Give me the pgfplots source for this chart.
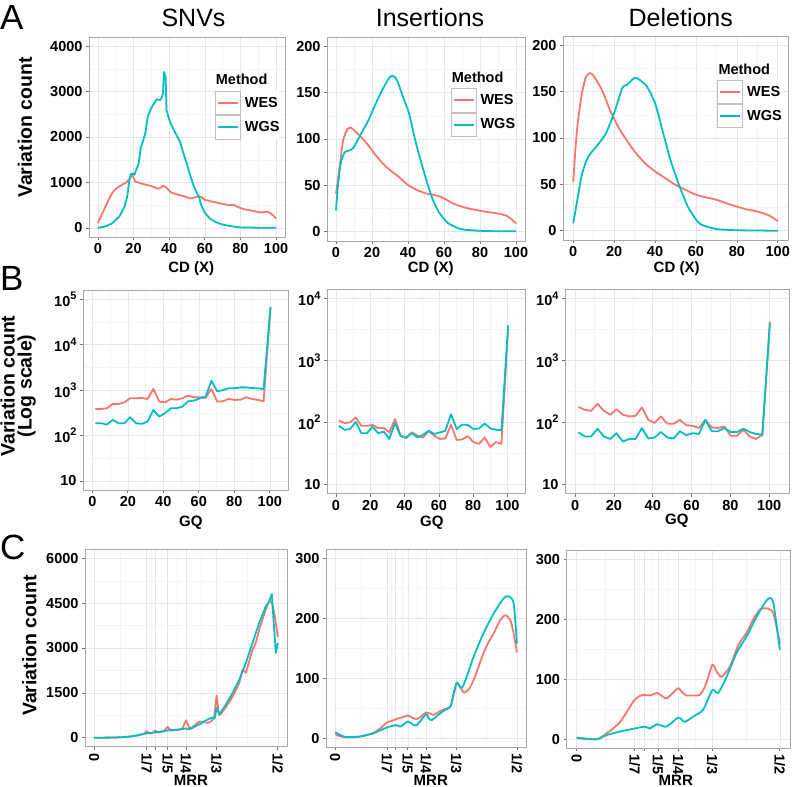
\documentclass[border=0pt]{standalone}
\usepackage{fontspec}
\setmainfont{Liberation Sans}
\usepackage{pgfplots}
\usepackage{pgfplotstable}
\pgfplotsset{compat=1.18}
\definecolor{wes}{HTML}{F8766D}
\definecolor{wgs}{HTML}{00BFC4}
\definecolor{gridmaj}{HTML}{E6E6E6}
\definecolor{gridmin}{HTML}{F5F5F5}
\definecolor{bord}{HTML}{A8A8A8}

\pgfplotstableread{
x wes wgs
1.7 384 186
5.0 384 186
8.2 396 174
11.5 495 220
14.8 495 186
18.1 535 186
21.3 657 252
24.6 657 186
27.9 670 180
31.1 635 202
34.4 1054 365
37.7 555 260
40.9 535 308
44.2 635 396
47.5 613 396
50.8 657 431
54.0 750 565
57.3 690 584
60.6 690 657
63.8 670 714
67.1 1054 1600
70.4 555 935
73.6 565 1000
76.9 635 1088
80.2 605 1088
83.5 613 1143
86.7 690 1143
90.0 635 1105
93.3 605 1088
96.5 565 1054
100.4 64800 67000
}\snvgq
\pgfplotstableread{
x wes wgs
1.7 106 88
5.0 98 76
8.2 100 78
11.5 120 102
14.8 88 67
18.1 88 67
21.3 91 85
24.6 81 67
27.9 81 71
31.1 69 54
34.4 113 98
37.7 61 60
40.9 57 56
44.2 69 67
47.5 61 57
50.8 57 63
54.0 73 73
57.3 61 65
60.6 54 69
63.8 55 73
67.1 92 136
70.4 52 78
73.6 53 92
76.9 60 91
80.2 48 78
83.5 45 80
86.7 57 96
90.0 40 80
93.3 48 76
96.5 45 75
100.4 3300 3700
}\insgq
\pgfplotstableread{
x wes wgs
1.7 177 69
5.0 160 59
8.2 154 59
11.5 200 79
14.8 154 59
18.1 133 54
21.3 163 67
24.6 133 49
27.9 125 54
31.1 128 54
34.4 175 81
37.7 110 55
40.9 98 57
44.2 125 70
47.5 95 57
50.8 95 55
54.0 110 72
57.3 90 62
60.6 88 67
63.8 81 65
67.1 110 110
70.4 83 72
73.6 81 72
76.9 86 81
80.2 61 70
83.5 61 70
86.7 76 79
90.0 59 70
93.3 54 65
96.5 63 63
100.4 4270 4000
}\delgq

\pgfplotsset{
  gg/.style={
    scale only axis,
    anchor=north west,
    axis line style={draw=bord, line width=0.8pt},
    tick align=outside,
    tick pos=left,
    major tick length=3pt,
    minor tick length=0pt,
    tick style={black!55, line width=0.7pt},
    grid=both,
    major grid style={gridmaj, line width=0.6pt},
    minor grid style={gridmin, line width=0.4pt},
    tick label style={font=\fontsize{14.5}{16}\selectfont\bfseries, text=black},
    xlabel style={font=\fontsize{15}{17}\selectfont\bfseries, anchor=base, inner sep=0pt},
    ylabel style={font=\fontsize{19.5}{20}\selectfont\bfseries, anchor=center},
    every axis plot/.append style={line width=1.8pt, no markers, line join=round},
  },
  ggleg/.style={
    legend style={at={(#1)}, anchor=north west, draw=none, fill=white,
      inner sep=0pt, outer sep=0pt, row sep=0pt, column sep=4pt,
      nodes={inner sep=0pt, font=\fontsize{14.5}{16}\selectfont\bfseries}},
    legend cell align=left,
    legend image code/.code={
      \draw[##1] (2.5pt,0pt) -- (22.5pt,0pt);
      \draw[draw=black!25, fill=none, line width=0.8pt, solid] (0pt,-11.75pt) rectangle (25pt,11.75pt);
    },
  },
  cdx/.style={xmin=-5, xmax=105, xtick={0,20,40,60,80,100}, xticklabels={0,20,40,60,80,100},
    minor xtick={10,30,50,70,90}, xlabel={CD (X)}},
  gqx/.style={xmin=-5.25, xmax=110.25, xtick={0,20,40,60,80,100}, xticklabels={0,20,40,60,80,100},
    minor xtick={10,30,50,70,90}, xlabel={GQ}},
  mrrx/.style={xmin=-0.025, xmax=0.525,
    xtick={0,0.142857,0.166667,0.2,0.25,0.333333,0.5},
    xticklabels={0,1/7,,1/5,1/4,1/3,1/2},
    minor xtick={0.071429,0.154762,0.183333,0.225,0.291667,0.416667},
    xticklabel style={rotate=-90, anchor=west},
    xlabel={MRR}},
}

\newcommand{\sups}[1]{10\raisebox{6.5pt}{\fontsize{11}{11}\selectfont #1}}

\begin{document}
\begin{tikzpicture}[x=1pt,y=1pt]
\useasboundingbox (0,0) rectangle (793,-787);

% panel letters
\node[anchor=base west, inner sep=0pt, font=\fontsize{35}{35}\selectfont] at (0,-30) {A};
\node[anchor=base west, inner sep=0pt, font=\fontsize{35}{35}\selectfont] at (0,-290) {B};
\node[anchor=base west, inner sep=0pt, font=\fontsize{35}{35}\selectfont] at (0,-559) {C};

% column titles
\node[anchor=base, inner sep=0pt, font=\fontsize{25}{25}\selectfont] at (193.5,-26) {SNVs};
\node[anchor=base, inner sep=0pt, font=\fontsize{25}{25}\selectfont] at (430,-26) {Insertions};
\node[anchor=base, inner sep=0pt, font=\fontsize{25}{25}\selectfont] at (680.8,-26) {Deletions};

% ---------------- Row A ----------------
\begin{axis}[gg, cdx, ggleg={0.643,0.7315},
  at={(89pt,-37pt)}, width=196pt, height=200pt,
  ymin=-200, ymax=4200, ytick={0,1000,2000,3000,4000}, yticklabels={0,1000,2000,3000,4000},
  minor ytick={500,1500,2500,3500},
  ylabel={Variation count},
  xlabel style={at={(axis description cs:0.522,-0.1785)}},
  ylabel style={at={(axis description cs:-0.3265,0.5475)}}]
\addlegendimage{wes, line width=2pt}
\addlegendentry{WES}
\addlegendimage{wgs, line width=2pt}
\addlegendentry{WGS}
\addplot[wes, forget plot] coordinates {(0,110) (2,280) (4,450) (6,620) (8,766) (10,860) (12,912) (14,960) (16,1000) (18,1095) (19.3,1170) (21,1020) (24,980) (27,950) (30,920) (34,860) (36.7,927) (38,900) (41,780) (45,730) (48,700) (52,645) (55,680) (57,700) (60,620) (65,570) (70,530) (74,496) (76,510) (78,470) (81.6,416) (85,390) (90,350) (92,340) (95,360) (97,320) (100,210)};
\addplot[wgs, forget plot] coordinates {(0,0) (4,30) (8,100) (12,250) (15,470) (16.5,700) (17.5,1000) (18.3,1180) (19.5,1200) (20.5,1170) (22.9,1420) (24,1750) (26.6,2080) (28,2450) (30.3,2664) (33,2832) (34.9,2810) (35.8,2870) (36.5,2950) (37.1,3430) (38,3320) (38.5,2590) (40.4,2336) (43.1,2117) (46,1900) (48,1640) (50,1400) (52,1130) (54,900) (55.5,770) (57,650) (58,500) (60,330) (63,200) (66,130) (70,73) (75,36) (80,10) (90,5) (100,5)};
\end{axis}

\begin{axis}[gg, cdx, ggleg={0.625,0.749},
  at={(327pt,-37pt)}, width=198pt, height=204pt,
  ymin=-10, ymax=210, ytick={0,50,100,150,200}, yticklabels={0,50,100,150,200},
  minor ytick={25,75,125,175},
  xlabel style={at={(axis description cs:0.524,-0.155)}}]
\addlegendimage{wes, line width=2pt}
\addlegendentry{WES}
\addlegendimage{wgs, line width=2pt}
\addlegendentry{WGS}
\addplot[wes, smooth, tension=0.4, forget plot] coordinates {(0,41) (1,55) (2,70) (3,85) (4,99) (6,109.5) (8,112.4) (10,109.5) (14,102) (18,93) (22,82.6) (26,73.6) (30,66.4) (35,59) (40,50.3) (45,45) (50,41.3) (55,39.5) (60,36) (65,30.5) (70,27) (75,24.5) (80,22.6) (85,21) (90,19.7) (95,17) (98,12.6) (100,9)};
\addplot[wgs, smooth, tension=0.4, forget plot] coordinates {(0,23) (1,48) (2,65) (3,77) (5,86) (8,88) (10,91.6) (14,106) (18,120) (22,138) (26,154) (30,167) (32,167.7) (34,163) (37.3,145) (40.6,127.5) (44.6,94) (50.2,55.6) (53.9,34) (57.6,19.7) (62,9.7) (66,5.4) (70,2.5) (80,1) (90,0.5) (100,0.5)};
\end{axis}

\begin{axis}[gg, cdx, ggleg={0.686,0.786},
  at={(563pt,-36pt)}, width=225pt, height=204pt,
  ymin=-10, ymax=210, ytick={0,50,100,150,200}, yticklabels={0,50,100,150,200},
  minor ytick={25,75,125,175},
  xlabel style={at={(axis description cs:0.505,-0.160)}}]
\addlegendimage{wes, line width=2pt}
\addlegendentry{WES}
\addlegendimage{wgs, line width=2pt}
\addlegendentry{WGS}
\addplot[wes, smooth, tension=0.4, forget plot] coordinates {(0,53) (1,85) (2,112) (4,145) (6,164.5) (8,170) (10,167) (14,152) (18,130) (22,112) (26,98) (30,85.5) (35,73) (40,64) (45,56.7) (50,49.5) (55,44) (60,38.8) (65,36) (70,33.4) (75,29.5) (80,26) (85,23) (90,20.8) (95,17.2) (98,13.6) (100,10)};
\addplot[wgs, smooth, tension=0.4, forget plot] coordinates {(0,8) (2,33) (4,58.5) (6,73) (8,82) (12,92.6) (16,105) (20,127) (24,154) (26,157) (28,161) (30,165) (32,163.4) (36,155.6) (40,137.5) (44,105) (48,73) (52,47.8) (56,26) (60,12) (62,7.5) (64,5.4) (70,1.8) (80,0.5) (100,0)};
\end{axis}

\node[anchor=base west, inner sep=0pt, font=\fontsize{14.5}{16}\selectfont\bfseries] at (215.7,-84.3) {Method};
\node[anchor=base west, inner sep=0pt, font=\fontsize{14.5}{16}\selectfont\bfseries] at (451.7,-82.7) {Method};
\node[anchor=base west, inner sep=0pt, font=\fontsize{14.5}{16}\selectfont\bfseries] at (718.3,-74) {Method};

% ---------------- Row B ----------------
\begin{axis}[gg, gqx, ymode=log,
  at={(83pt,-290pt)}, width=205pt, height=200pt,
  ymin=6.31, ymax=158489,
  ytick={10,100,1000,10000,100000}, yticklabels={10,\sups{2},\sups{3},\sups{4},\sups{5}},
  minor ytick={31.62,316.2,3162,31623},
  ylabel={Variation count\\[-3pt](Log scale)},
  ylabel style={align=center, at={(axis description cs:-0.317,0.52)}},
  xlabel style={at={(axis description cs:0.526,-0.1825)}}]
\addplot[wes] table[x=x, y=wes] {\snvgq};
\addplot[wgs] table[x=x, y=wgs] {\snvgq};
\end{axis}

\begin{axis}[gg, gqx, ymode=log,
  at={(327pt,-289.5pt)}, width=198pt, height=204pt,
  ymin=7.08, ymax=14125,
  ytick={10,100,1000,10000}, yticklabels={10,\sups{2},\sups{3},\sups{4}},
  minor ytick={31.62,316.2,3162},
  xlabel style={at={(axis description cs:0.529,-0.162)}}]
\addplot[wes] table[x=x, y=wes] {\insgq};
\addplot[wgs] table[x=x, y=wgs] {\insgq};
\end{axis}

\begin{axis}[gg, gqx, ymode=log,
  at={(565pt,-289.5pt)}, width=224pt, height=204pt,
  ymin=7.08, ymax=14125,
  ytick={10,100,1000,10000}, yticklabels={10,\sups{2},\sups{3},\sups{4}},
  minor ytick={31.62,316.2,3162},
  xlabel style={at={(axis description cs:0.499,-0.154)}}]
\addplot[wes] table[x=x, y=wes] {\delgq};
\addplot[wgs] table[x=x, y=wgs] {\delgq};
\end{axis}

% ---------------- Row C ----------------
\begin{axis}[gg, mrrx,
  at={(85pt,-549.3pt)}, width=202pt, height=197.4pt,
  ymin=-300, ymax=6300, ytick={0,1500,3000,4500,6000}, yticklabels={0,1500,3000,4500,6000},
  minor ytick={750,2250,3750,5250},
  ylabel={Variation count},
  ylabel style={at={(axis description cs:-0.2748,0.5127)}},
  xlabel style={at={(axis description cs:0.524,-0.196)}}]
\addplot[wes] coordinates {(0,0) (0.05,5) (0.08,20) (0.1,40) (0.12,80) (0.135,130) (0.1429,220) (0.151,140) (0.16,170) (0.1667,240) (0.175,170) (0.19,220) (0.2,360) (0.21,240) (0.23,260) (0.24,300) (0.25,580) (0.26,310) (0.275,420) (0.286,540) (0.3,520) (0.31,500) (0.32,560) (0.327,700) (0.3333,1410) (0.34,760) (0.345,800) (0.36,1050) (0.38,1440) (0.395,1830) (0.404,2280) (0.413,2170) (0.431,2940) (0.44,3170) (0.449,3610) (0.467,4280) (0.478,4600) (0.484,4500) (0.49,4200) (0.495,3800) (0.5,3370)};
\addplot[wgs] coordinates {(0,0) (0.05,5) (0.08,20) (0.106,55) (0.125,100) (0.142,144) (0.16,170) (0.178,200) (0.2,244) (0.215,260) (0.232,278) (0.25,311) (0.259,280) (0.272,360) (0.286,444) (0.304,578) (0.32,667) (0.328,640) (0.3333,1000) (0.3406,780) (0.3586,1110) (0.377,1500) (0.395,1944) (0.413,2500) (0.431,3167) (0.449,3833) (0.467,4389) (0.476,4555) (0.4837,4800) (0.488,4000) (0.4946,2833) (0.5,3167)};
\end{axis}

\begin{axis}[gg, mrrx,
  at={(326pt,-549.3pt)}, width=200pt, height=198pt,
  ymin=-15, ymax=315, ytick={0,100,200,300}, yticklabels={0,100,200,300}, minor ytick={50,150,250},
  xlabel style={at={(axis description cs:0.524,-0.192)}}]
\addplot[wes, smooth, tension=0.4] coordinates {(0,7) (0.016,3) (0.032,1.7) (0.069,3) (0.106,9.4) (0.125,17) (0.142,26) (0.155,29) (0.168,32) (0.185,35) (0.2,38) (0.213,34) (0.225,32) (0.238,37) (0.25,43) (0.262,41) (0.27,39) (0.294,47) (0.317,53) (0.327,75) (0.335,92) (0.345,84) (0.355,76) (0.368,82) (0.381,97) (0.395,120) (0.408,142) (0.422,160) (0.436,175) (0.454,197) (0.468,205) (0.482,197) (0.491,175) (0.5,143)};
\addplot[wgs, smooth, tension=0.4] coordinates {(0,10) (0.016,5) (0.032,2) (0.069,3) (0.106,8.3) (0.142,18) (0.168,22) (0.18,19.4) (0.2,28) (0.214,23) (0.225,22) (0.25,40) (0.258,33) (0.266,30.5) (0.294,44) (0.317,53) (0.327,78) (0.335,93) (0.349,84) (0.365,108) (0.381,136) (0.408,175) (0.436,208) (0.463,233) (0.477,237) (0.491,225) (0.5,158)};
\end{axis}

\begin{axis}[gg, mrrx,
  at={(566.5pt,-550pt)}, width=223.5pt, height=198.3pt,
  ymin=-15, ymax=315, ytick={0,100,200,300}, yticklabels={0,100,200,300}, minor ytick={50,150,250},
  xlabel style={at={(axis description cs:0.489,-0.1866)}}]
\addplot[wes, smooth, tension=0.4] coordinates {(0,2) (0.049,0) (0.074,10) (0.09,18) (0.107,29) (0.12,42) (0.131,54) (0.1429,66) (0.155,72) (0.164,74) (0.18,73) (0.198,77) (0.21,72) (0.221,68) (0.235,76) (0.25,85) (0.26,78) (0.27,73) (0.29,73) (0.303,74) (0.316,88) (0.334,124) (0.345,112) (0.357,104) (0.377,121) (0.398,157) (0.418,177) (0.434,199) (0.451,216) (0.467,218) (0.484,210) (0.5,160)};
\addplot[wgs, smooth, tension=0.4] coordinates {(0,3) (0.049,0) (0.074,7) (0.107,13) (0.1429,18) (0.168,21) (0.18,18) (0.198,25) (0.221,21) (0.25,36) (0.266,29) (0.287,38) (0.311,49) (0.334,82) (0.348,77) (0.369,104) (0.393,143) (0.418,171) (0.443,204) (0.463,227) (0.474,235) (0.484,227) (0.5,149)};
\end{axis}

\end{tikzpicture}
\end{document}
